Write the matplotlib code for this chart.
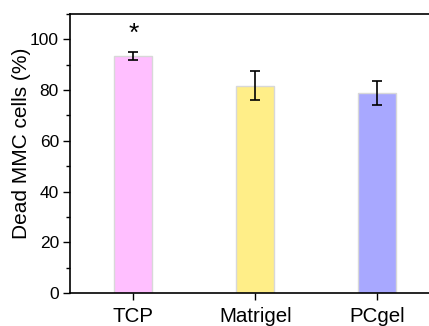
import matplotlib
matplotlib.use("Agg")
import matplotlib.pyplot as plt
from matplotlib.ticker import MultipleLocator

plt.rcParams['font.family'] = ['Liberation Sans', 'DejaVu Sans']

categories = ["TCP", "Matrigel", "PCgel"]
values = [93.4, 81.8, 78.8]
errors = [1.6, 5.9, 4.7]
colors = ["#FFBFFF", "#FFEE88", "#A8A8FF"]
star_label = "*"
star_value = 102

fig = plt.figure(figsize=(4.29, 3.26), dpi=100)
ax = fig.add_axes([70/429, (326-293)/326, 368/429, (293-14)/326])

x = list(range(1, len(categories) + 1))
ax.bar(x, values, width=0.31, color=colors, edgecolor="#D8D8D8", linewidth=1.0,
       yerr=errors, error_kw=dict(ecolor="black", elinewidth=1.2, capsize=3.5, capthick=1.2))
ax.text(x[0], star_value, star_label, ha="center", va="center", fontsize=19)

ax.set_xlim(0.48, 3.5)
ax.set_ylim(0, 110)
ax.set_xticks(x)
ax.set_xticklabels(categories, fontsize=14.8)
ax.yaxis.set_major_locator(MultipleLocator(20))
ax.yaxis.set_minor_locator(MultipleLocator(10))
ax.tick_params(axis="y", which="major", labelsize=12.5, length=5, width=1, direction="out", pad=3)
ax.tick_params(axis="y", which="minor", length=3, width=1, direction="out")
ax.tick_params(axis="x", length=5, width=1, direction="out", pad=5)
ax.set_ylabel("Dead MMC cells (%)", fontsize=15)
ax.yaxis.set_label_coords(-0.106, 0.537)
ax.spines["right"].set_visible(False)
for s in ax.spines.values():
    s.set_linewidth(1.2)

fig.savefig("out.png", dpi=100)
